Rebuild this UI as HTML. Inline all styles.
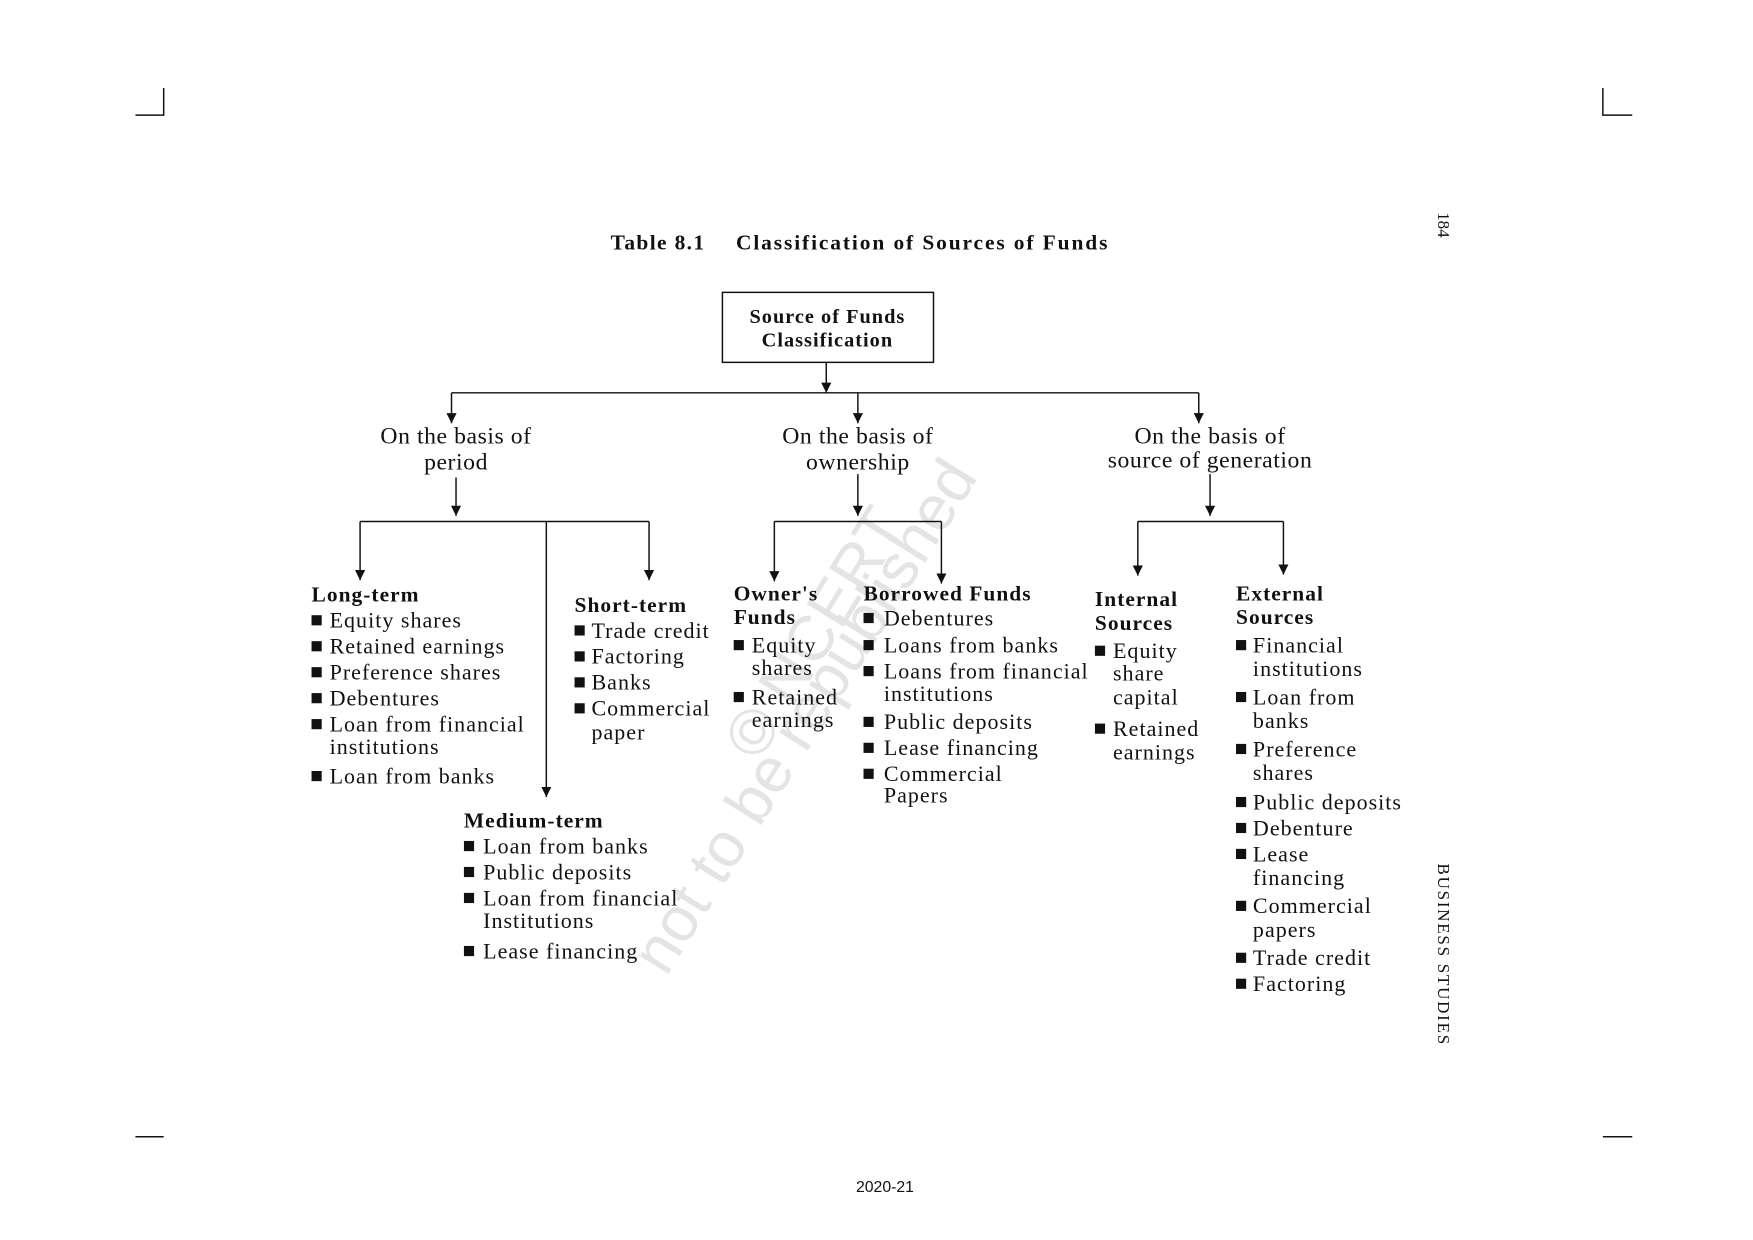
<!DOCTYPE html>
<html><head><meta charset="utf-8"><style>
html,body{margin:0;padding:0;background:#fff;}
svg{display:block;}
text{font-family:"Liberation Serif",serif;fill:#111;}
.b{font-weight:bold;font-size:19px;letter-spacing:0.9px;}
.i{font-size:19.5px;letter-spacing:0.9px;}
.h{font-size:21px;letter-spacing:0.5px;}
</style></head><body>
<svg width="1753" height="1240" viewBox="0 0 1553 1098.5" preserveAspectRatio="none" xmlns="http://www.w3.org/2000/svg">
<defs>
<marker id="d" viewBox="0 0 10 10" refX="5" refY="10" markerWidth="9" markerHeight="9" orient="0" markerUnits="userSpaceOnUse"><path d="M0,0 L10,0 L5,10 z" fill="#111"/></marker></defs>
<text x="0" y="0" transform="translate(672,676) rotate(-58)" font-size="56" style="fill:#e4e4e4;font-family:'Liberation Sans',sans-serif">© NCERT</text>
<text x="0" y="0" transform="translate(590,866) rotate(-58)" font-size="56" style="fill:#e4e4e4;font-family:'Liberation Sans',sans-serif">not to be republished</text>
<g stroke="#111" stroke-width="1.3" fill="none">
<path d="M145,78 V102 H120 M1420,78 V102 H1446 M120,1007 H145 M1420,1007 H1446"/>
<rect x="640" y="259" width="187" height="62"/>
<path d="M732,321 V348" marker-end="url(#d)"/>
<path d="M400,348 H1062"/>
<path d="M400,348 V375" marker-end="url(#d)"/>
<path d="M760,348 V375" marker-end="url(#d)"/>
<path d="M1062,348 V375" marker-end="url(#d)"/>
<path d="M404,423 V457" marker-end="url(#d)"/>
<path d="M319,462 H575"/>
<path d="M319,462 V514" marker-end="url(#d)"/>
<path d="M575,462 V514" marker-end="url(#d)"/>
<path d="M484,462 V706" marker-end="url(#d)"/>
<path d="M760,420 V457" marker-end="url(#d)"/>
<path d="M686,462 H834"/>
<path d="M686,462 V515" marker-end="url(#d)"/>
<path d="M834,462 V517" marker-end="url(#d)"/>
<path d="M1072,420 V457" marker-end="url(#d)"/>
<path d="M1008,462 H1137"/>
<path d="M1008,462 V510" marker-end="url(#d)"/>
<path d="M1137,462 V509" marker-end="url(#d)"/>
</g>
<text class="b" x="541" y="221" style="letter-spacing:1.2px">Table 8.1</text>
<text class="b" x="652" y="221" textLength="330">Classification of Sources of Funds</text>
<text transform="translate(1274,188) rotate(90)" font-size="15">184</text>
<text transform="translate(1274,765) rotate(90)" font-size="15" textLength="160">BUSINESS STUDIES</text>
<text x="784" y="1056" text-anchor="middle" style="font-family:'Liberation Sans',sans-serif" font-size="14">2020-21</text>
<text class="b" x="733" y="286" text-anchor="middle" font-size="17" style="font-size:18px">Source of Funds</text>
<text class="b" x="733" y="307" text-anchor="middle" style="font-size:18px">Classification</text>
<text class="h" x="404" y="393" text-anchor="middle">On the basis of</text><text class="h" x="404" y="416" text-anchor="middle">period</text>
<text class="h" x="760" y="393" text-anchor="middle">On the basis of</text><text class="h" x="760" y="416" text-anchor="middle">ownership</text>
<text class="h" x="1072" y="393" text-anchor="middle">On the basis of</text><text class="h" x="1072" y="414" text-anchor="middle">source of generation</text>
<text class="b" x="276" y="533">Long-term</text>
<text class="b" x="509" y="542">Short-term</text>
<text class="b" x="411" y="733">Medium-term</text>
<text class="b" x="650" y="532">Owner's</text><text class="b" x="650" y="553">Funds</text>
<text class="b" x="765" y="532">Borrowed Funds</text>
<text class="b" x="970" y="537">Internal</text><text class="b" x="970" y="558">Sources</text>
<text class="b" x="1095" y="532">External</text><text class="b" x="1095" y="553">Sources</text>
<g fill="#111">
<rect x="276" y="545" width="9" height="9"/><rect x="276" y="568" width="9" height="9"/><rect x="276" y="591" width="9" height="9"/><rect x="276" y="614" width="9" height="9"/><rect x="276" y="637" width="9" height="9"/><rect x="276" y="683" width="9" height="9"/>
<rect x="509" y="554" width="9" height="9"/><rect x="509" y="577" width="9" height="9"/><rect x="509" y="600" width="9" height="9"/><rect x="509" y="623" width="9" height="9"/>
<rect x="411" y="745" width="9" height="9"/><rect x="411" y="768" width="9" height="9"/><rect x="411" y="791" width="9" height="9"/><rect x="411" y="838" width="9" height="9"/>
<rect x="650" y="567" width="9" height="9"/><rect x="650" y="613" width="9" height="9"/>
<rect x="765" y="543" width="9" height="9"/><rect x="765" y="567" width="9" height="9"/><rect x="765" y="590" width="9" height="9"/><rect x="765" y="635" width="9" height="9"/><rect x="765" y="658" width="9" height="9"/><rect x="765" y="681" width="9" height="9"/>
<rect x="970" y="572" width="9" height="9"/><rect x="970" y="641" width="9" height="9"/>
<rect x="1095" y="567" width="9" height="9"/><rect x="1095" y="613" width="9" height="9"/><rect x="1095" y="659" width="9" height="9"/><rect x="1095" y="706" width="9" height="9"/><rect x="1095" y="729" width="9" height="9"/><rect x="1095" y="752" width="9" height="9"/><rect x="1095" y="798" width="9" height="9"/><rect x="1095" y="844" width="9" height="9"/><rect x="1095" y="867" width="9" height="9"/>
</g>
<text class="i" x="292" y="556">Equity shares</text>
<text class="i" x="292" y="579">Retained earnings</text>
<text class="i" x="292" y="602">Preference shares</text>
<text class="i" x="292" y="625">Debentures</text>
<text class="i" x="292" y="648">Loan from financial</text>
<text class="i" x="292" y="668">institutions</text>
<text class="i" x="292" y="694">Loan from banks</text>
<text class="i" x="524" y="565">Trade credit</text>
<text class="i" x="524" y="588">Factoring</text>
<text class="i" x="524" y="611">Banks</text>
<text class="i" x="524" y="634">Commercial</text>
<text class="i" x="524" y="655">paper</text>
<text class="i" x="428" y="756">Loan from banks</text>
<text class="i" x="428" y="779">Public deposits</text>
<text class="i" x="428" y="802">Loan from financial</text>
<text class="i" x="428" y="822">Institutions</text>
<text class="i" x="428" y="849">Lease financing</text>
<text class="i" x="666" y="578">Equity</text>
<text class="i" x="666" y="598">shares</text>
<text class="i" x="666" y="624">Retained</text>
<text class="i" x="666" y="644">earnings</text>
<text class="i" x="783" y="554">Debentures</text>
<text class="i" x="783" y="578">Loans from banks</text>
<text class="i" x="783" y="601">Loans from financial</text>
<text class="i" x="783" y="621">institutions</text>
<text class="i" x="783" y="646">Public deposits</text>
<text class="i" x="783" y="669">Lease financing</text>
<text class="i" x="783" y="692">Commercial</text>
<text class="i" x="783" y="711">Papers</text>
<text class="i" x="986" y="583">Equity</text>
<text class="i" x="986" y="603">share</text>
<text class="i" x="986" y="624">capital</text>
<text class="i" x="986" y="652">Retained</text>
<text class="i" x="986" y="673">earnings</text>
<text class="i" x="1110" y="578">Financial</text>
<text class="i" x="1110" y="599">institutions</text>
<text class="i" x="1110" y="624">Loan from</text>
<text class="i" x="1110" y="645">banks</text>
<text class="i" x="1110" y="670">Preference</text>
<text class="i" x="1110" y="691">shares</text>
<text class="i" x="1110" y="717">Public deposits</text>
<text class="i" x="1110" y="740">Debenture</text>
<text class="i" x="1110" y="763">Lease</text>
<text class="i" x="1110" y="784">financing</text>
<text class="i" x="1110" y="809">Commercial</text>
<text class="i" x="1110" y="830">papers</text>
<text class="i" x="1110" y="855">Trade credit</text>
<text class="i" x="1110" y="878">Factoring</text>
</svg>
</body></html>
